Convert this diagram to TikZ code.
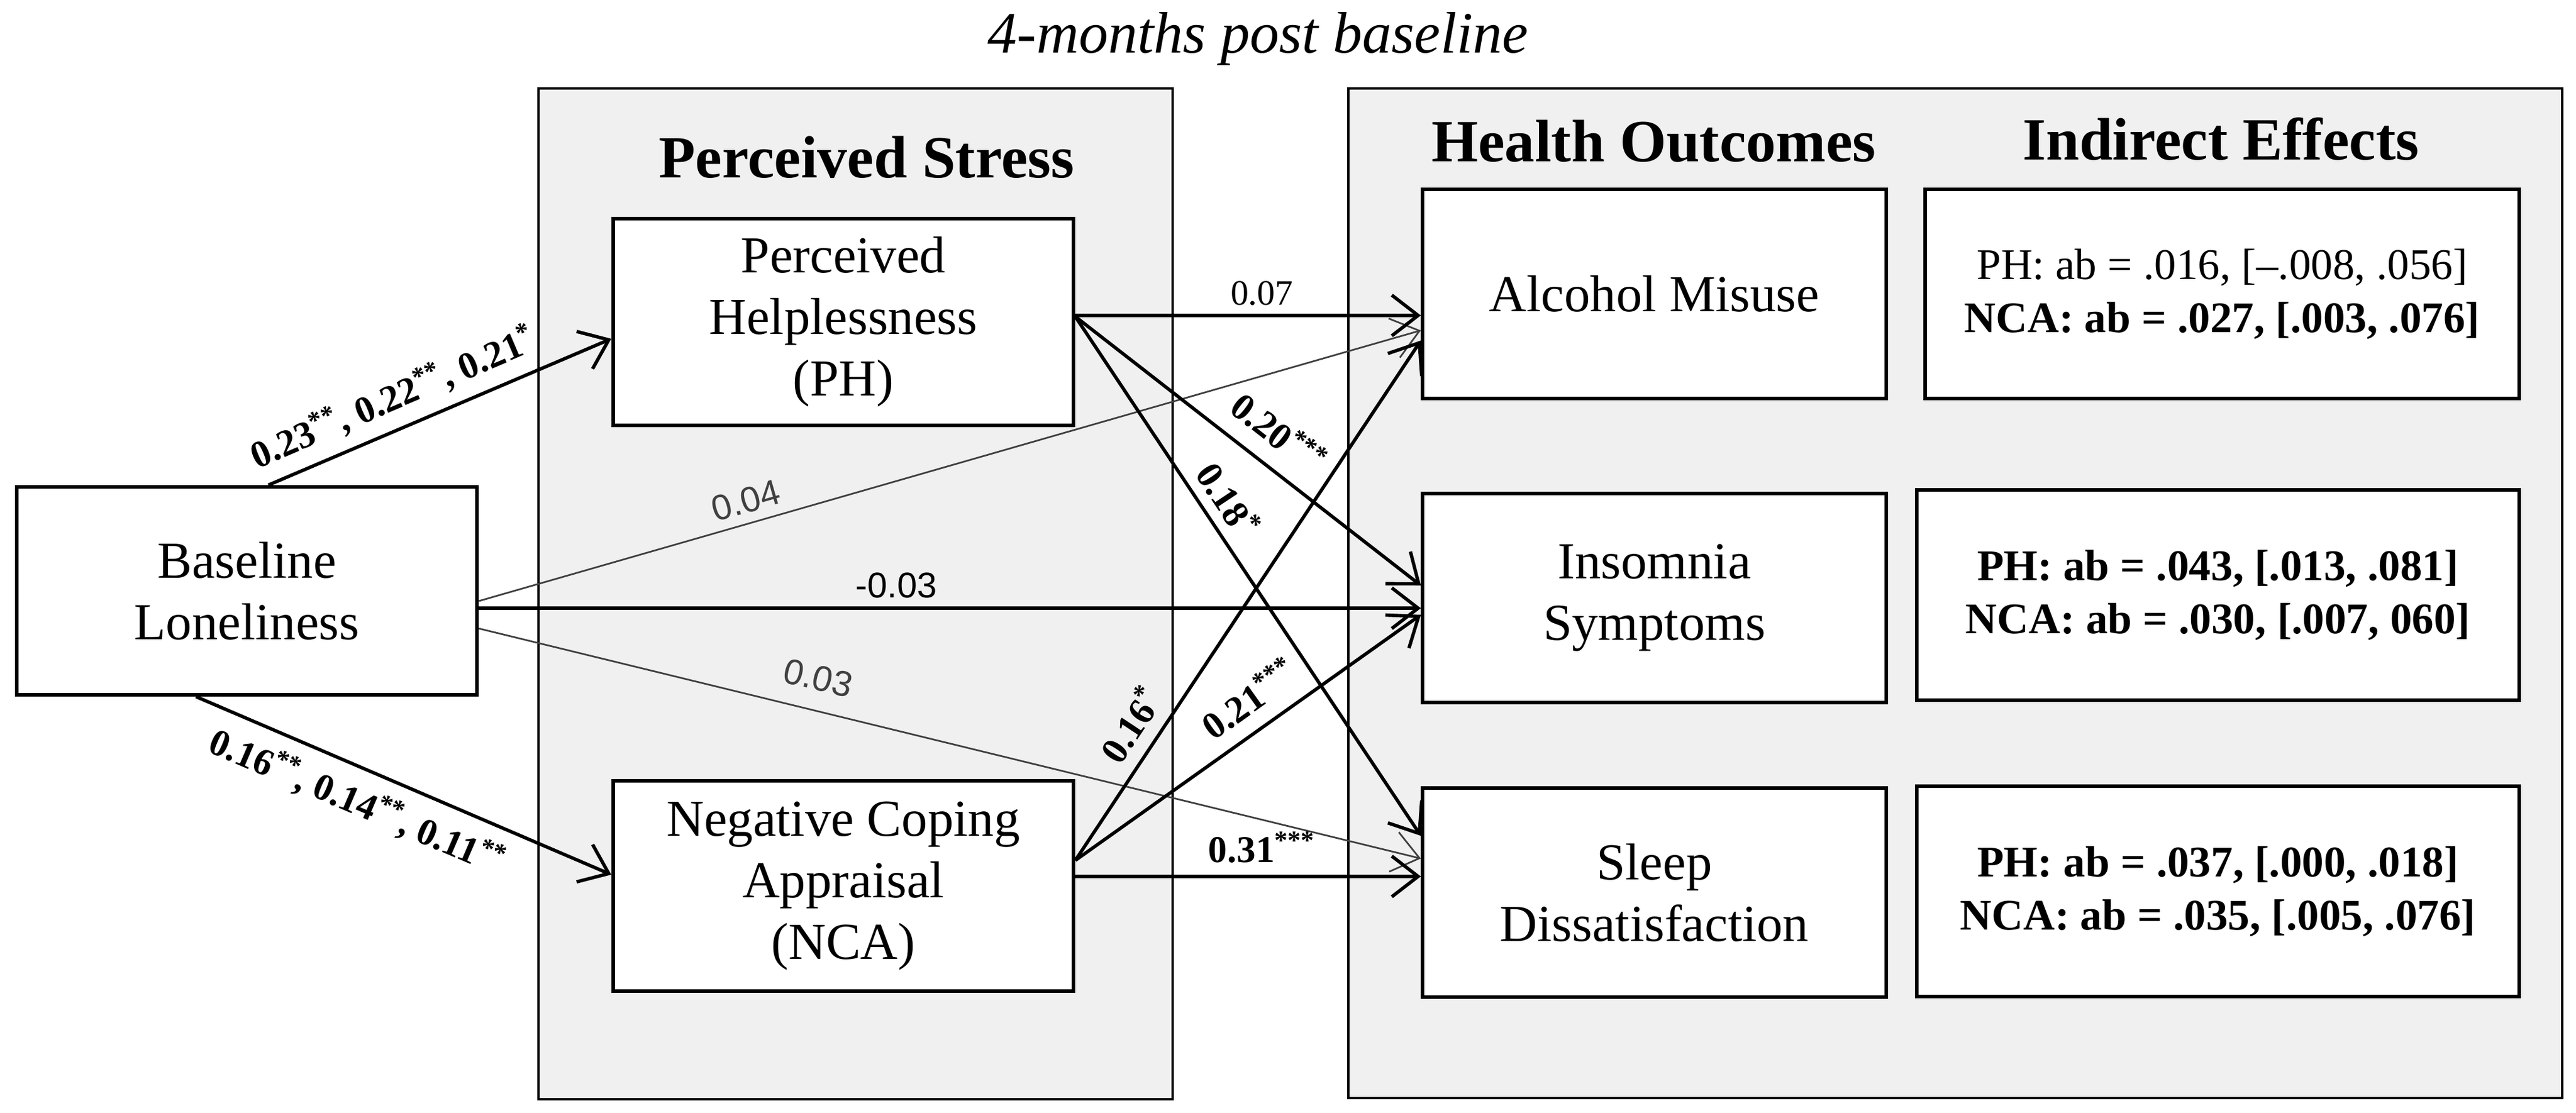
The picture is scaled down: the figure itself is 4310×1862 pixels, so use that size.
\documentclass[tikz,border=0pt]{standalone}
\usepackage{fontspec}
\setmainfont{Liberation Serif}
\newfontfamily\lsans{Liberation Sans}
\usetikzlibrary{arrows.meta,calc}
\definecolor{panelgray}{HTML}{F0F0F0}
\definecolor{thingray}{HTML}{404040}
\begin{document}
\begin{tikzpicture}[x=0.01cm,y=-0.01cm,
  panel/.style={draw=black, line width=1.3pt, fill=panelgray},
  box/.style={draw=black, line width=1.7pt, fill=white, align=center, inner sep=0pt,
    font=\fontsize{24.7}{29.3}\selectfont},
  iebox/.style={draw=black, line width=1.7pt, fill=white, align=center, inner sep=0pt,
    font=\fontsize{20.8}{25.3}\selectfont},
  header/.style={font=\fontsize{28.5}{34}\selectfont\bfseries, anchor=base, inner sep=0pt},
  thickarrow/.style={line width=1.6pt, -{Straight Barb[length=0.44cm,width=0.68cm]}},
  thinarrow/.style={line width=0.8pt, draw=thingray, -{Straight Barb[length=0.44cm,width=0.68cm]}},
  coef/.style={font=\fontsize{18}{21}\selectfont\bfseries, sloped, inner sep=2pt},
  coefr/.style={font=\fontsize{17}{20}\selectfont, sloped, inner sep=2pt},
  coefs/.style={font=\lsans\fontsize{17}{20}\selectfont, sloped, inner sep=2pt},
]
\useasboundingbox (0,0) rectangle (4310,1862);

% panels
\path[panel] (901,148) rectangle (1962,1840);
\path[panel] (2256,148) rectangle (4287,1838);

% title and headers
\node[font=\fontsize{27.9}{33}\selectfont\itshape, anchor=base, inner sep=0pt] (title) at (2105,88) {4-months post baseline};
\node[header] (hps) at (1450,297) {Perceived Stress};
\node[header] (hho) at (2767,270) {Health Outcomes};
\node[header] (hie) at (3716,267) {Indirect Effects};

% boxes
\node[box, minimum width=7.70cm, minimum height=3.48cm] (base) at (413,989) {Baseline\\Loneliness};
\node[box, minimum width=7.70cm, minimum height=3.46cm] (ph) at (1411,539) {Perceived\\Helplessness\\(PH)};
\node[box, minimum width=7.70cm, minimum height=3.51cm] (nca) at (1411,1483) {Negative Coping\\Appraisal\\(NCA)};
\node[box, minimum width=7.75cm, minimum height=3.50cm] (alc) at (2768,492) {Alcohol Misuse};
\node[box, minimum width=7.75cm, minimum height=3.49cm] (ins) at (2768,1001) {Insomnia\\Symptoms};
\node[box, minimum width=7.75cm, minimum height=3.50cm] (slp) at (2768,1494) {Sleep\\Dissatisfaction};
\node[iebox, minimum width=9.93cm, minimum height=3.50cm] (ie1) at (3718,492)
  {PH: ab = .016, [\textendash.008, .056]\\\textbf{NCA: ab = .027, [.003, .076]}};
\node[iebox, minimum width=10.07cm, minimum height=3.52cm] (ie2) at (3711,996)
  {\textbf{PH: ab = .043, [.013, .081]}\\\textbf{NCA: ab = .030, [.007, 060]}};
\node[iebox, minimum width=10.07cm, minimum height=3.51cm] (ie3) at (3711,1492)
  {\textbf{PH: ab = .037, [.000, .018]}\\\textbf{NCA: ab = .035, [.005, .076]}};

% baseline -> mediators
\draw[thickarrow] ($(base.north)+(36,0)$) -- ($(ph.west)+(0,28)$)
  node[coef, pos=0.40, above=3.5pt] {0.23\textsuperscript{**}, 0.22\textsuperscript{**}, 0.21\textsuperscript{*}};
\draw[thickarrow] ($(base.south)+(-85,0)$) -- ($(nca.west)+(0,-19)$)
  node[coef, pos=0.42, below=4.5pt] {0.16\textsuperscript{**}, 0.14\textsuperscript{**}, 0.11\textsuperscript{**}};

% baseline -> outcomes (direct)
\draw[thinarrow] ($(base.east)+(0,17)$) -- ($(alc.west)+(0,61)$)
  node[coefs, text=thingray, pos=0.29, above=2.4pt] {0.04};
\draw[thickarrow] ($(base.east)+(0,29)$) -- ($(ins.west)+(0,17)$)
  node[coefs, pos=0.443, above=2pt] {-0.03};
\draw[thinarrow] ($(base.east)+(0,63)$) -- ($(slp.west)+(0,-57)$)
  node[coefs, text=thingray, pos=0.352, above=7pt] {0.03};

% PH -> outcomes
\draw[thickarrow] ($(ph.east)+(0,-11)$) -- ($(alc.west)+(0,36)$)
  node[coefr, pos=0.54, above=2pt] {0.07};
\draw[thickarrow] ($(ph.east)+(0,-9)$) -- ($(ins.west)+(0,-21)$)
  node[coef, pos=0.53, above=6pt] {0.20\textsuperscript{***}};
\draw[thickarrow] ($(ph.east)+(0,-9)$) -- ($(slp.west)+(0,-95)$)
  node[coef, pos=0.38, above=2.6pt] {0.18\textsuperscript{*}};

% NCA -> outcomes
\draw[thickarrow] ($(nca.east)+(0,-43)$) -- ($(alc.west)+(0,78)$)
  node[coef, pos=0.23, above=4pt] {0.16\textsuperscript{*}};
\draw[thickarrow] ($(nca.east)+(0,-43)$) -- ($(ins.west)+(0,28)$)
  node[coef, pos=0.555, above=5pt] {0.21\textsuperscript{***}};
\draw[thickarrow] ($(nca.east)+(0,-16)$) -- ($(slp.west)+(0,-27)$)
  node[coef, pos=0.54, above=3.5pt] {0.31\textsuperscript{***}};
\end{tikzpicture}
\end{document}
